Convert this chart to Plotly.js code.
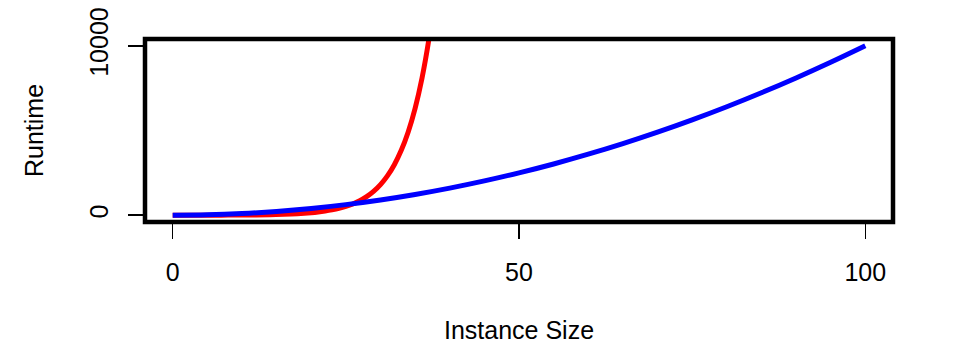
<!DOCTYPE html>
<html>
<head>
<meta charset="utf-8">
<script src="https://cdn.plot.ly/plotly-3.0.1.min.js"></script>
<style>html,body{margin:0;padding:0;background:#fff;}#chart{width:968px;height:362px;}</style>
</head>
<body>
<div id="chart"></div>
<script>
// Values
const polyX = [0,5,10,15,20,25,30,35,40,45,50,55,60,65,70,75,80,85,90,95,100];
const polyY = [0,25,100,225,400,625,900,1225,1600,2025,2500,3025,3600,4225,4900,5625,6400,7225,8100,9025,10000];
const expX = [0,2,4,6,8,10,12,14,16,18,20,21,22,23,24,25,26,27,28,29,30,31,32,33,34,35,36,37,38];
const expY = [1,2,3,4,7,12,20,33,55,90,148,190,245,315,403,518,665,854,1097,1408,1808,2321,2981,3828,4915,6311,8103,10405,13360];
const xTicks = [0,50,100];
const yTicks = [0,10000];
const xTitle = "Instance Size";
const yTitle = "Runtime";

const font = {family: "Liberation Sans, Arial, sans-serif", size: 25, color: "#000"};

const traces = [
  {x: expX, y: expY, mode: "lines", line: {color: "#ff0000", width: 5, shape: "spline"}, hoverinfo: "skip"},
  {x: polyX, y: polyY, mode: "lines", line: {color: "#0000ff", width: 5, shape: "spline"}, hoverinfo: "skip"}
];

const layout = {
  width: 968, height: 362,
  margin: {l: 145, r: 75, t: 39, b: 140},
  paper_bgcolor: "#fff", plot_bgcolor: "#fff",
  showlegend: false,
  font: font,
  xaxis: {
    range: [-4, 104], tickvals: xTicks, ticktext: xTicks.map(String),
    ticks: "outside", ticklen: 16, tickwidth: 1.5, tickcolor: "#000",
    showgrid: false, zeroline: false, showline: false,
    tickfont: font, ticklabelstandoff: 12,
    title: {text: xTitle, font: font, standoff: 36}
  },
  yaxis: {
    range: [-400, 10400], tickvals: yTicks, ticktext: yTicks.map(String),
    ticks: "outside", ticklen: 16, tickwidth: 1.5, tickcolor: "#000",
    showgrid: false, zeroline: false, showline: false,
    tickangle: -90, tickfont: font, ticklabelstandoff: 10,
    title: {text: yTitle, font: font, standoff: 34}
  },
  shapes: [{type: "rect", xref: "paper", yref: "paper", x0: 0, x1: 1, y0: 0, y1: 1,
            line: {color: "#000", width: 4.5}, layer: "above"}]
};

Plotly.newPlot("chart", traces, layout, {staticPlot: true, displayModeBar: false});
</script>
</body>
</html>
